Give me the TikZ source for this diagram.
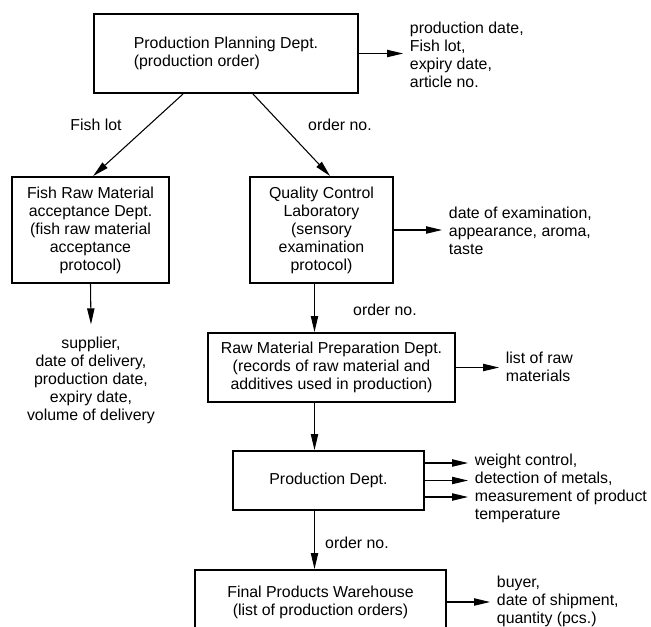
\documentclass[tikz,border=0pt]{standalone}
\usepackage{fontspec}
\setmainfont{Liberation Sans}
\usetikzlibrary{arrows.meta,calc}
\tikzset{>={Triangle[length=12pt,width=5.5pt]}}

\begin{document}
\begin{tikzpicture}[x=0.75pt,y=-0.75pt,
	font=\fontsize{11.9}{13.5}\selectfont,
	box/.style={draw,line width=1.5pt,inner sep=0pt,align=center},
	info/.style={inner xsep=5pt,inner ysep=0pt,align=left},
	conn/.style={->,line width=0.8pt}]
	\clip (0,0) rectangle (651,626);

	% Departments
	\node[box,align=left,minimum width=198pt,minimum height=59.25pt] (plan) at (226,53.5) {Production Planning Dept.\\(production order)}; %planning
	\node[box,minimum width=117.75pt,minimum height=79.5pt] (fish) at (90.5,230) {Fish Raw Material\\acceptance Dept.\\(fish raw material\\acceptance\\protocol)}; %fish acceptance
	\node[box,minimum width=107.25pt,minimum height=79.5pt] (qc) at (321.5,230) {Quality Control\\Laboratory\\(sensory\\examination\\protocol)}; %laboratory
	\node[box,minimum width=185.25pt,minimum height=51.75pt] (raw) at (331.5,367.5) {Raw Material Preparation Dept.\\(records of raw material and\\additives used in production)}; %preparation
	\node[box,minimum width=143.25pt,minimum height=44.25pt] (prod) at (328.5,480.5) {Production Dept.}; %production
	\node[box,minimum width=188.25pt,minimum height=48pt] (final) at (320.5,602) {Final Products Warehouse\\(list of production orders)}; %warehouse

	% Recorded data
	\node[info,anchor=west] (planout) at (403,54.5) {production date,\\Fish lot,\\expiry date,\\article no.};
	\node[info,anchor=west] (qcout) at (442,231) {date of examination,\\appearance, aroma,\\taste};
	\node[info,anchor=west] (rawout) at (499,367) {list of raw\\materials};
	\node[info,anchor=west] (prodout) at (468,488.5) {weight control,\\detection of metals,\\measurement of product\\temperature};
	\node[info,anchor=west] (finalout) at (490,601) {buyer,\\date of shipment,\\quantity (pcs.)};
	\node[info,align=center] (fishout) at (91,380) {supplier,\\date of delivery,\\production date,\\expiry date,\\volume of delivery};

	% Connector labels
	\node (lfish) at (96,125) {Fish lot};
	\node (lorderqc) at (340,125) {order no.};
	\node (lorderraw) at (385,310) {order no.};
	\node (lorderfinal) at (357,543) {order no.};

	% Drawing everything
	\coordinate (spine) at (314.5,0);
	\draw[conn] ([xshift=-32.25pt]plan.south) -- ([xshift=2pt]fish.north);
	\draw[conn] ([xshift=20.25pt]plan.south) -- ([xshift=6.4pt]qc.north);
	\draw[conn] (fish.south) -- ([yshift=9pt]fishout.north);
	\draw[conn] (qc.south -| spine) -- (raw.north -| spine);
	\draw[conn] (raw.south -| spine) -- (prod.north -| spine);
	\draw[conn] (prod.south -| spine) -- (final.north -| spine);

	\draw[conn] (plan.east) -- (plan.east -| planout.west);
	\draw[conn] (qc.east) -- (qc.east -| qcout.west);
	\draw[conn] (raw.east) -- (raw.east -| rawout.west);
	\draw[conn] (final.east) -- (final.east -| finalout.west);
	\foreach \dy in {-17.5,0,16.5}
		\draw[conn] (prod.east) ++(0,\dy) coordinate (p) -- (p -| prodout.west);
\end{tikzpicture}
\end{document}
